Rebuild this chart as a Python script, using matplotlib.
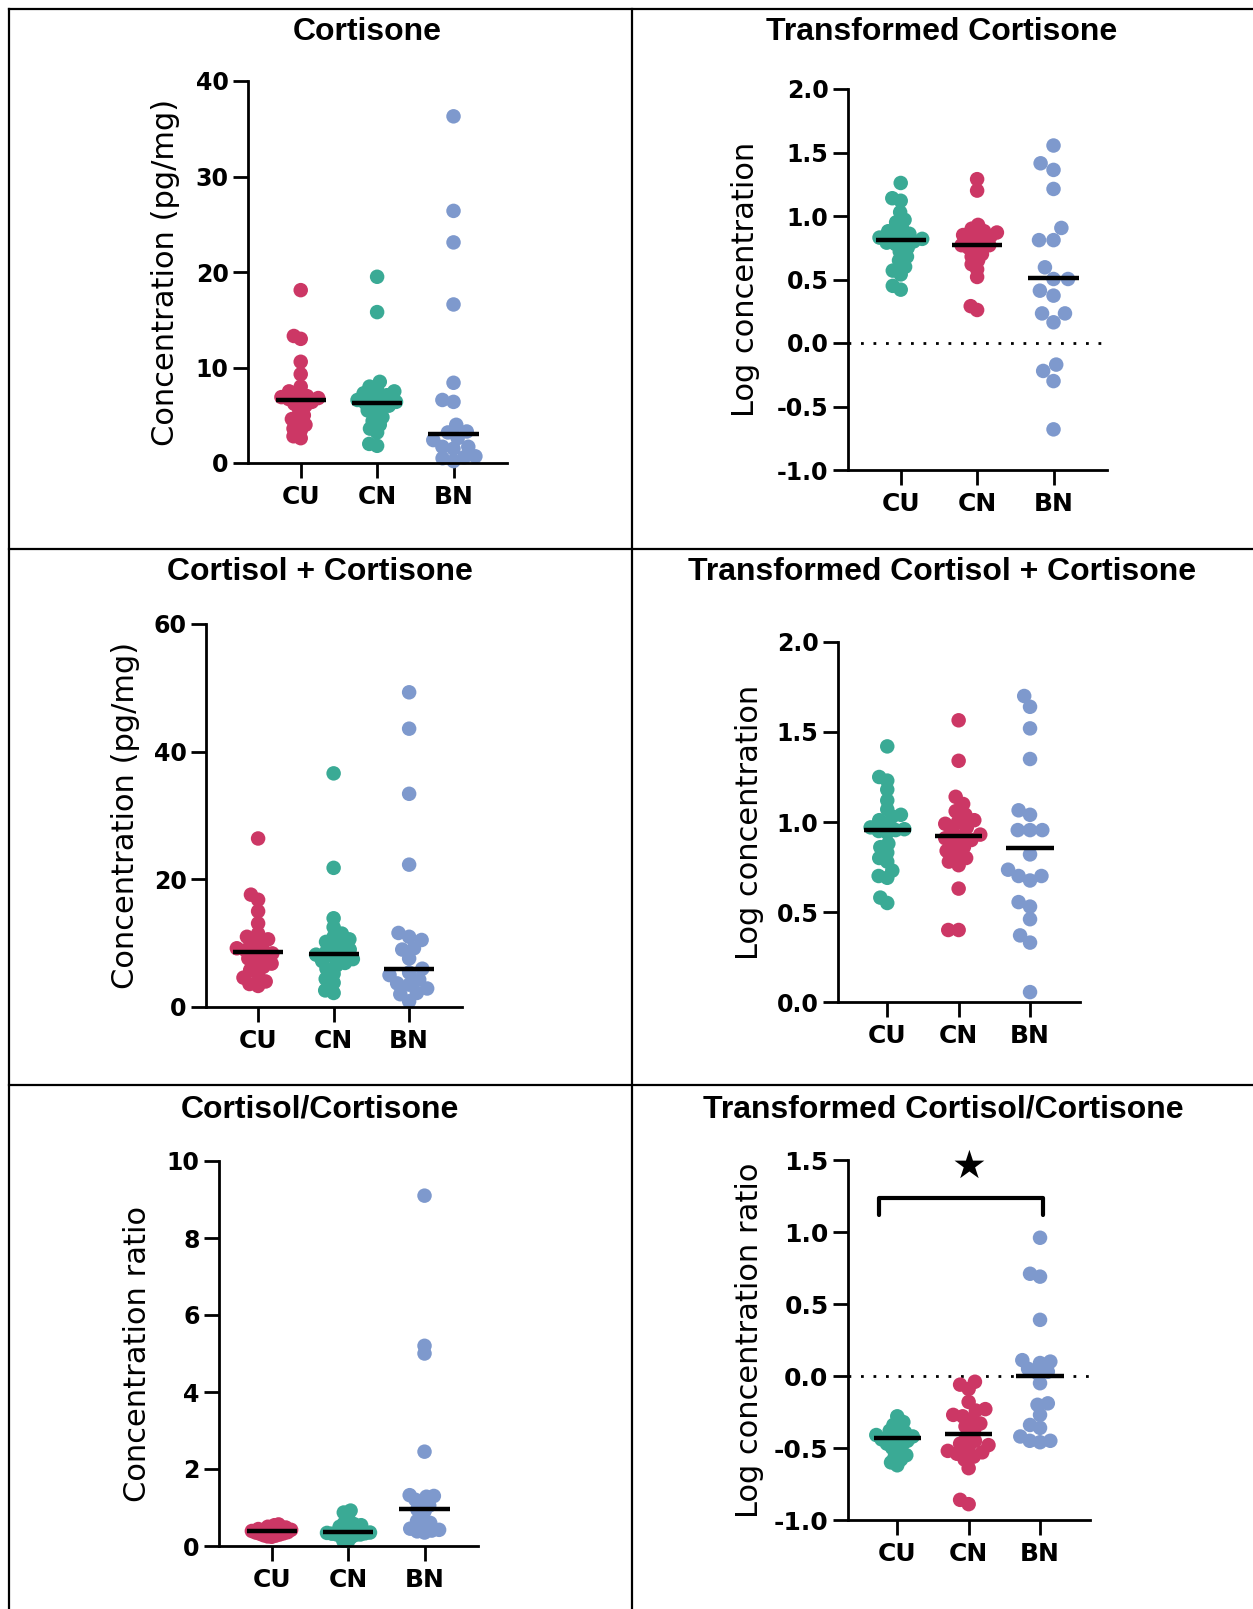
import numpy as np
import matplotlib
matplotlib.use("Agg")
import matplotlib.pyplot as plt
from matplotlib.lines import Line2D

# groups
cats = ["CU", "CN", "BN"]

# raw cortisone (pg/mg)
cortisone_cu = [18.1, 13.3, 13.0, 10.6, 9.3, 8.0, 7.5, 7.2, 7.0, 6.9, 6.8, 6.7, 6.6,
                6.4, 6.2, 6.0, 5.6, 5.0, 4.6, 4.4, 4.0, 3.6, 3.4, 2.8, 2.6]
cortisone_cn = [19.5, 15.8, 8.5, 8.0, 7.7, 7.5, 7.3, 7.1, 7.0, 6.8, 6.6, 6.4, 6.3,
                6.2, 6.0, 5.8, 5.5, 5.2, 4.8, 4.4, 4.0, 3.6, 3.2, 2.0, 1.8]
cortisone_bn = [36.3, 26.4, 23.1, 16.6, 8.4, 6.6, 6.4, 4.0, 3.3, 3.2, 2.6, 2.4, 1.7,
                1.7, 1.5, 0.7, 0.6, 0.5, 0.2]

# log cortisone
log_cortisone_cu = [1.26, 1.14, 1.12, 1.03, 0.97, 0.95, 0.90, 0.88, 0.86, 0.85, 0.83,
                    0.82, 0.81, 0.80, 0.79, 0.78, 0.75, 0.72, 0.68, 0.65, 0.60, 0.57,
                    0.54, 0.45, 0.42]
log_cortisone_cn = [1.29, 1.20, 0.93, 0.90, 0.88, 0.87, 0.86, 0.85, 0.84, 0.83, 0.82,
                    0.80, 0.77, 0.77, 0.76, 0.75, 0.73, 0.70, 0.68, 0.65, 0.62, 0.58,
                    0.52, 0.29, 0.26]
log_cortisone_bn = [1.555, 1.415, 1.363, 1.213, 0.906, 0.81, 0.81, 0.596, 0.504, 0.504,
                    0.412, 0.373, 0.233, 0.233, 0.163, -0.17, -0.22, -0.30, -0.68]

# raw cortisol + cortisone (pg/mg)
sum_cu = [26.4, 17.6, 16.8, 15.0, 13.1, 11.5, 11.0, 10.6, 10.2, 9.6, 9.2, 8.9, 8.6,
          8.4, 8.0, 7.6, 7.2, 6.8, 6.3, 5.8, 5.2, 4.6, 4.0, 3.6, 3.3]
sum_cn = [36.6, 21.8, 13.9, 12.5, 11.5, 11.0, 10.6, 10.2, 9.8, 9.5, 9.0, 8.7, 8.4,
          8.2, 7.9, 7.5, 7.2, 6.9, 6.5, 6.0, 5.2, 4.4, 3.8, 2.6, 2.2]
sum_bn = [49.3, 43.6, 33.4, 22.3, 11.6, 11.0, 10.5, 9.2, 9.0, 7.6, 6.0, 5.4, 5.0,
          4.3, 3.7, 3.5, 2.9, 2.2, 2.0, 0.9]

# log cortisol + cortisone
log_sum_cu = [1.42, 1.25, 1.23, 1.18, 1.12, 1.07, 1.04, 1.03, 1.01, 0.99, 0.97, 0.96,
              0.955, 0.95, 0.94, 0.88, 0.86, 0.83, 0.80, 0.78, 0.73, 0.70, 0.69,
              0.58, 0.55]
log_sum_cn = [1.565, 1.34, 1.14, 1.10, 1.06, 1.04, 1.01, 1.00, 0.99, 0.97, 0.95, 0.93,
              0.92, 0.91, 0.90, 0.88, 0.86, 0.84, 0.82, 0.80, 0.78, 0.76, 0.63,
              0.40, 0.40]
log_sum_bn = [1.70, 1.64, 1.52, 1.35, 1.065, 1.04, 0.955, 0.955, 0.955, 0.82, 0.735,
              0.70, 0.70, 0.675, 0.555, 0.53, 0.46, 0.37, 0.33, 0.055]

# cortisol/cortisone ratio
ratio_cu = [0.56, 0.54, 0.50, 0.48, 0.46, 0.44, 0.43, 0.42, 0.41, 0.40, 0.39, 0.38,
            0.37, 0.36, 0.35, 0.34, 0.33, 0.32, 0.30, 0.28, 0.27, 0.25, 0.24]
ratio_cn = [0.92, 0.87, 0.81, 0.66, 0.59, 0.57, 0.54, 0.52, 0.50, 0.47, 0.45, 0.42,
            0.38, 0.35, 0.34, 0.33, 0.32, 0.30, 0.30, 0.29, 0.28, 0.26, 0.23, 0.14, 0.13]
ratio_bn = [9.1, 5.2, 5.0, 2.45, 1.32, 1.30, 1.28, 1.20, 1.12, 1.05, 0.95, 0.90, 0.65,
            0.60, 0.54, 0.45, 0.42, 0.40, 0.38, 0.35]

# log ratio
log_ratio_cu = [-0.28, -0.32, -0.34, -0.36, -0.38, -0.39, -0.40, -0.41, -0.42, -0.43,
                -0.43, -0.44, -0.45, -0.46, -0.47, -0.48, -0.50, -0.52, -0.55, -0.56,
                -0.58, -0.60, -0.62]
log_ratio_cn = [-0.04, -0.06, -0.09, -0.18, -0.23, -0.24, -0.27, -0.28, -0.30, -0.33,
                -0.35, -0.38, -0.42, -0.45, -0.47, -0.48, -0.50, -0.52, -0.53, -0.54,
                -0.56, -0.58, -0.64, -0.86, -0.89]
log_ratio_bn = [0.96, 0.71, 0.69, 0.39, 0.11, 0.10, 0.09, 0.05, 0.03, 0.02, -0.05,
                -0.19, -0.20, -0.27, -0.34, -0.36, -0.42, -0.45, -0.45, -0.46]

# centre lines (CU, CN, BN)
center_cortisone = [6.6, 6.3, 3.0]
center_log_cortisone = [0.81, 0.77, 0.51]
center_sum = [8.6, 8.3, 6.0]
center_log_sum = [0.955, 0.92, 0.855]
center_ratio = [0.38, 0.37, 0.95]
center_log_ratio = [-0.43, -0.40, 0.0]

RED = "#CC3765"
TEAL = "#3AAA95"
BLUE = "#7E99CD"

W, H = 1253, 1609
DPI = 100
fig = plt.figure(figsize=(W / DPI, H / DPI), dpi=DPI)

DOT_PX = 14.5


def swarm(vals, ypx, xpx, max_half=22.0):
    vals = np.asarray(vals, dtype=float)
    d = DOT_PX
    while True:
        placed = []
        xs = np.zeros(len(vals))
        for i in np.argsort(vals):
            y = vals[i] * ypx
            cands = [0.0]
            for py, px in placed:
                dy = abs(y - py)
                if dy < d:
                    dx = np.sqrt(d * d - dy * dy)
                    cands += [px + dx, px - dx]
            cands.sort(key=lambda c: (abs(c), c))
            for c in cands:
                if all((c - px) ** 2 + (y - py) ** 2 >= d * d - 1e-6 for py, px in placed):
                    break
            xs[i] = c
            placed.append((y, c))
        if np.abs(xs).max() <= max_half or d < 3:
            break
        d *= 0.92
    return xs / xpx


def panel(box, groups, colors, centers, ylim, yticks, ylabels, ylabel, ylab_x,
          zero_line=False, xlim=(0.31, 3.7), ysize=17):
    l, r, t, b = box
    ax = fig.add_axes([l / W, 1 - b / H, (r - l) / W, (b - t) / H])
    ax.set_xlim(*xlim)
    ax.set_ylim(*ylim)
    ypx = (b - t) / (ylim[1] - ylim[0])
    xpx = (r - l) / (xlim[1] - xlim[0])
    if zero_line:
        ax.plot(xlim, [0, 0], color="black", lw=2, linestyle=(0, (1, 3.5)), zorder=1)
    for k, (vals, col) in enumerate(zip(groups, colors)):
        off = swarm(vals, ypx, xpx)
        ax.scatter(k + 1 + off, vals, s=(DOT_PX * 72 / DPI) ** 2, color=col,
                   edgecolors="none", zorder=2, clip_on=False)
        ax.plot([k + 1 - 0.33, k + 1 + 0.33], [centers[k], centers[k]],
                color="black", lw=3.2, solid_capstyle="butt", zorder=3)
    for s in ["top", "right"]:
        ax.spines[s].set_visible(False)
    for s in ["left", "bottom"]:
        ax.spines[s].set_linewidth(2)
    ax.set_xticks([1, 2, 3])
    ax.set_xticklabels(cats, fontsize=18, fontweight="bold", family="DejaVu Sans")
    ax.set_yticks(yticks)
    ax.set_yticklabels(ylabels, fontsize=ysize, fontweight="bold", family="DejaVu Sans")
    ax.tick_params(axis="both", direction="out", length=11, width=2)
    ax.tick_params(axis="y", pad=3)
    ax.tick_params(axis="x", pad=5)
    ax.text((ylab_x - l) / (r - l), 0.5, ylabel, transform=ax.transAxes,
            rotation=90, ha="center", va="center", fontsize=22, family="DejaVu Sans")
    return ax


panel((248, 507, 81, 463), [cortisone_cu, cortisone_cn, cortisone_bn],
      [RED, TEAL, BLUE], center_cortisone, (0, 40), [0, 10, 20, 30, 40],
      ["0", "10", "20", "30", "40"], "Concentration (pg/mg)", 166)

panel((848, 1107, 89, 470), [log_cortisone_cu, log_cortisone_cn, log_cortisone_bn],
      [TEAL, RED, BLUE], center_log_cortisone, (-1, 2),
      [-1, -0.5, 0, 0.5, 1, 1.5, 2],
      ["-1.0", "-0.5", "0.0", "0.5", "1.0", "1.5", "2.0"], "Log concentration", 746,
      zero_line=True)

panel((206, 462, 624, 1007), [sum_cu, sum_cn, sum_bn], [RED, TEAL, BLUE],
      center_sum, (0, 60), [0, 20, 40, 60], ["0", "20", "40", "60"],
      "Concentration (pg/mg)", 125)

panel((838, 1080, 642, 1002), [log_sum_cu, log_sum_cn, log_sum_bn],
      [TEAL, RED, BLUE], center_log_sum, (0, 2), [0, 0.5, 1, 1.5, 2],
      ["0.0", "0.5", "1.0", "1.5", "2.0"], "Log concentration", 750)

panel((219, 478, 1161, 1546), [ratio_cu, ratio_cn, ratio_bn], [RED, TEAL, BLUE],
      center_ratio, (0, 10), [0, 2, 4, 6, 8, 10], ["0", "2", "4", "6", "8", "10"],
      "Concentration ratio", 138)

ax6 = panel((848, 1090, 1160, 1520), [log_ratio_cu, log_ratio_cn, log_ratio_bn],
            [TEAL, RED, BLUE], center_log_ratio, (-1, 1.5),
            [-1, -0.5, 0, 0.5, 1, 1.5], ["-1.0", "-0.5", "0.0", "0.5", "1.0", "1.5"],
            "Log concentration ratio", 750, zero_line=True, ysize=18)
ax6.plot([0.74, 0.74, 3.04, 3.04], [1.12, 1.235, 1.235, 1.12], color="black", lw=3,
         solid_joinstyle="round", solid_capstyle="round")
ax6.text(2.0, 1.45, "\u2605", ha="center", va="center", fontsize=28,
         family="DejaVu Sans")

# panel titles
titles = [("Cortisone", 367, 32), ("Transformed Cortisone", 942, 32),
          ("Cortisol + Cortisone", 320, 572), ("Transformed Cortisol + Cortisone", 942, 572),
          ("Cortisol/Cortisone", 320, 1109), ("Transformed Cortisol/Cortisone", 943, 1109)]
for txt, x, y in titles:
    fig.text(x / W, 1 - y / H, txt, ha="center", va="center", fontsize=23,
             fontweight="bold", family="Liberation Sans")

# table grid
def hline(y, x0=9, x1=W):
    fig.add_artist(Line2D([x0 / W, x1 / W], [1 - y / H, 1 - y / H], color="black", lw=1.6))

def vline(x, y0=9, y1=H):
    fig.add_artist(Line2D([x / W, x / W], [1 - y0 / H, 1 - y1 / H], color="black", lw=1.6))

hline(9)
hline(549)
hline(1085)
vline(9)
vline(632)

fig.savefig("out.png", dpi=DPI)
